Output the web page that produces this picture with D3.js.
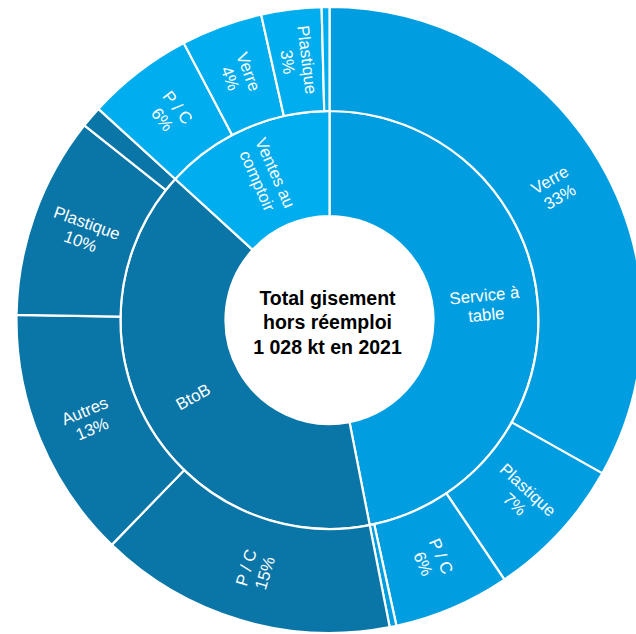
<!DOCTYPE html>
<html>
<head>
<meta charset="utf-8">
<script src="https://cdn.jsdelivr.net/npm/d3@7/dist/d3.min.js"></script>
<style>
  html, body { margin: 0; padding: 0; background: #ffffff; }
  svg { display: block; }
</style>
</head>
<body>
<svg id="chart" width="636" height="634"></svg>
<script>
// ---- Data (shares of the total, %) ----
const groups = ["Service à table", "BtoB", "Ventes au comptoir"];
const groupLines = [["Service à", "table"], ["BtoB"], ["Ventes au", "comptoir"]];

const serviceNames  = ["Verre", "Plastique", "P / C", "Autres"];
const serviceValues = [33.1, 7.4, 6.0, 0.35];
const serviceLabels = ["33%", "7%", "6%", ""];

const btobNames  = ["P / C", "Autres", "Plastique", "Verre"];
const btobValues = [15.3, 13.0, 10.4, 1.1];
const btobLabels = ["15%", "13%", "10%", ""];

const ventesNames  = ["P / C", "Verre", "Plastique", "Autres"];
const ventesValues = [5.5, 4.2, 3.1, 0.4];
const ventesLabels = ["6%", "4%", "3%", ""];

const groupColors = ["#009ee0", "#0a76a8", "#00adee"];

const centerLines = ["Total gisement", "hors réemploi", "1 028 kt en 2021"];

// ---- Build hierarchy ----
const leafSets = [
  [serviceNames, serviceValues, serviceLabels],
  [btobNames, btobValues, btobLabels],
  [ventesNames, ventesValues, ventesLabels]
];
const treeData = {
  name: "root",
  children: groups.map((g, gi) => ({
    name: g, gi: gi,
    children: leafSets[gi][0].map((n, i) => ({
      name: n, gi: gi, value: leafSets[gi][1][i], pct: leafSets[gi][2][i]
    }))
  }))
};

const root = d3.hierarchy(treeData).sum(d => d.value || 0);
d3.partition().size([2 * Math.PI, 3])(root);

const cx = 329.5, cy = 320;
const rScale = d3.scaleLinear().domain([0, 1, 2, 3]).range([0, 104, 209, 313]);

const arc = d3.arc()
  .startAngle(d => d.x0)
  .endAngle(d => d.x1)
  .innerRadius(d => rScale(d.y0))
  .outerRadius(d => rScale(d.y1));

const svg = d3.select("#chart");
const g = svg.append("g").attr("transform", `translate(${cx},${cy})`);

const nodes = root.descendants().filter(d => d.depth > 0);

g.selectAll("path.seg")
  .data(nodes)
  .join("path")
  .attr("class", "seg")
  .attr("d", arc)
  .attr("fill", d => groupColors[d.data.gi])
  .attr("stroke", "#ffffff")
  .attr("stroke-width", 2.2)
  .attr("stroke-linejoin", "miter");

// ---- Labels ----
function labelTransform(d) {
  const a = (d.x0 + d.x1) / 2;
  const r = (rScale(d.y0) + rScale(d.y1)) / 2;
  const deg = a * 180 / Math.PI;
  const rot = deg < 180 ? deg - 90 : deg + 90;
  return `translate(${r * Math.sin(a)},${-r * Math.cos(a)}) rotate(${rot})`;
}

const labelNodes = nodes.filter(d => d.depth === 1 || (d.data.pct && d.data.pct.length));

const lab = g.selectAll("g.lab")
  .data(labelNodes)
  .join("g")
  .attr("class", "lab")
  .attr("transform", labelTransform);

lab.each(function(d) {
  const lines = d.depth === 1 ? groupLines[d.data.gi] : [d.data.name, d.data.pct];
  const lh = 19.5;
  const t = d3.select(this).append("text")
    .attr("text-anchor", "middle")
    .attr("fill", "#ffffff")
    .style("font-family", "'Liberation Sans', Arial, sans-serif")
    .style("font-size", "16.8px");
  lines.forEach((ln, i) => {
    t.append("tspan")
      .attr("x", 0)
      .attr("y", (i - (lines.length - 1) / 2) * lh)
      .attr("dy", "0.35em")
      .text(ln);
  });
});

// ---- Center text ----
const ct = svg.append("text")
  .attr("text-anchor", "middle")
  .attr("fill", "#000000")
  .style("font-family", "'Liberation Sans', Arial, sans-serif")
  .style("font-weight", "bold")
  .style("font-size", "19.5px");
centerLines.forEach((ln, i) => {
  ct.append("tspan")
    .attr("x", cx - 2)
    .attr("y", 305 + i * 24.3)
    .text(ln);
});
</script>
</body>
</html>
